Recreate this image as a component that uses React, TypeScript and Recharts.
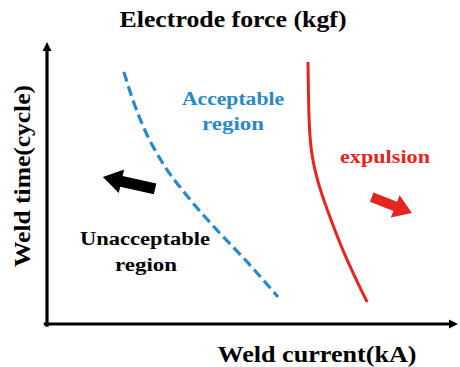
import { ComposedChart, Line, XAxis, YAxis, ReferenceLine } from 'recharts';

// boundary curves (x = current, y = time, both 0..100)
const acceptX = [18.7, 20.9, 23.8, 28.0, 34.1, 41.1, 48.7, 56.2];
const acceptY = [89.4, 79.4, 68.8, 57.4, 45.4, 33.7, 22.0, 9.6];
const expulsionX = [63.5, 63.6, 63.8, 64.5, 66.4, 69.3, 72.5, 76.2, 77.9];
const expulsionY = [92.9, 83.7, 71.6, 59.9, 48.2, 36.2, 24.5, 12.8, 7.8];

// direction arrows: [tailX, tailY, tipX, tipY]
const leftArrow = [26.3, 47.9, 13.6, 52.1];
const rightArrow = [79.0, 45.0, 88.8, 39.4];

const acceptData = acceptX.map((x, i) => ({ x, y: acceptY[i] }));
const expulsionData = expulsionX.map((x, i) => ({ x, y: expulsionY[i] }));

const BLUE = '#2B88C9';
const RED = '#E5261E';
const FONT = 'Liberation Serif, DejaVu Serif, serif';

function arrowShape(color: string, shaft: number, head: number, headLen: number) {
  return (props: any) => {
    const { x1, y1, x2, y2 } = props;
    if ([x1, y1, x2, y2].some((v) => v == null || isNaN(v))) return <g />;
    const len = Math.hypot(x2 - x1, y2 - y1) || 1;
    const dx = (x2 - x1) / len;
    const dy = (y2 - y1) / len;
    const nx = -dy;
    const ny = dx;
    const bx = x2 - dx * headLen;
    const by = y2 - dy * headLen;
    const pts = [
      [x1 + nx * shaft, y1 + ny * shaft],
      [bx + nx * shaft, by + ny * shaft],
      [bx + nx * head, by + ny * head],
      [x2, y2],
      [bx - nx * head, by - ny * head],
      [bx - nx * shaft, by - ny * shaft],
      [x1 - nx * shaft, y1 - ny * shaft],
    ];
    return <polygon points={pts.map((p) => p.join(',')).join(' ')} fill={color} />;
  };
}

const txt = (fill: string, size: number) => ({
  fontFamily: FONT,
  fontWeight: 'bold',
  fontSize: size,
  fill,
  textAnchor: 'middle' as const,
  lengthAdjust: 'spacingAndGlyphs',
});

export default function App() {
  return (
    <div style={{ position: 'absolute', left: 0, top: 0, width: 460, height: 367, background: '#fff', fontFamily: FONT }}>
      {/* white sample text, only so the serif faces are in use before the chart text is laid out */}
      <div style={{ position: 'absolute', left: 380, top: 2, fontSize: 12, lineHeight: '13px', color: '#fff' }}>
        <div style={{ fontFamily: 'Liberation Serif' }}>Wg</div>
        <div style={{ fontFamily: 'DejaVu Serif' }}>Wg</div>
        <div style={{ fontFamily: 'serif' }}>Wg</div>
      </div>
      <ComposedChart width={460} height={367} margin={{ top: 42, right: 2, bottom: 43, left: 47 }}>
        <XAxis type="number" dataKey="x" domain={[0, 100]} hide />
        <YAxis type="number" dataKey="y" domain={[0, 100]} hide />

        {/* axes with arrow heads */}
        <ReferenceLine
          segment={[{ x: -0.8, y: 0 }, { x: 100, y: 0 }]}
          ifOverflow="visible"
          shape={arrowShape('#000', 1.6, 4.5, 9)}
        />
        <ReferenceLine
          segment={[{ x: 0, y: -1 }, { x: 0, y: 100 }]}
          ifOverflow="visible"
          shape={arrowShape('#000', 1.6, 4.5, 9)}
        />

        <Line
          data={acceptData}
          dataKey="y"
          type="monotone"
          stroke={BLUE}
          strokeWidth={3.2}
          strokeDasharray="10 5"
          dot={false}
          isAnimationActive={false}
        />
        <Line
          data={expulsionData}
          dataKey="y"
          type="natural"
          stroke={RED}
          strokeWidth={3}
          dot={false}
          isAnimationActive={false}
        />

        <ReferenceLine
          segment={[{ x: leftArrow[0], y: leftArrow[1] }, { x: leftArrow[2], y: leftArrow[3] }]}
          ifOverflow="visible"
          shape={arrowShape('#000', 5.5, 12, 19)}
        />
        <ReferenceLine
          segment={[{ x: rightArrow[0], y: rightArrow[1] }, { x: rightArrow[2], y: rightArrow[3] }]}
          ifOverflow="visible"
          shape={arrowShape(RED, 5, 12, 18)}
        />

        <text x={233} y={27} textLength={227} {...txt('#000', 23)}>
          Electrode force (kgf)
        </text>
        <text x={317} y={362} textLength={199} {...txt('#000', 24)}>
          Weld current(kA)
        </text>
        <text x={0} y={0} transform="translate(30,176) rotate(-90)" textLength={182} {...txt('#000', 24)}>
          Weld time(cycle)
        </text>

        <text x={233} y={105} textLength={102} {...txt(BLUE, 18)}>
          Acceptable
        </text>
        <text x={233} y={130} textLength={62} {...txt(BLUE, 18)}>
          region
        </text>
        <text x={145} y={245} textLength={130} {...txt('#000', 18)}>
          Unacceptable
        </text>
        <text x={146} y={271} textLength={62} {...txt('#000', 18)}>
          region
        </text>
        <text x={385} y={163} textLength={90} {...txt(RED, 19)}>
          expulsion
        </text>
      </ComposedChart>
    </div>
  );
}
